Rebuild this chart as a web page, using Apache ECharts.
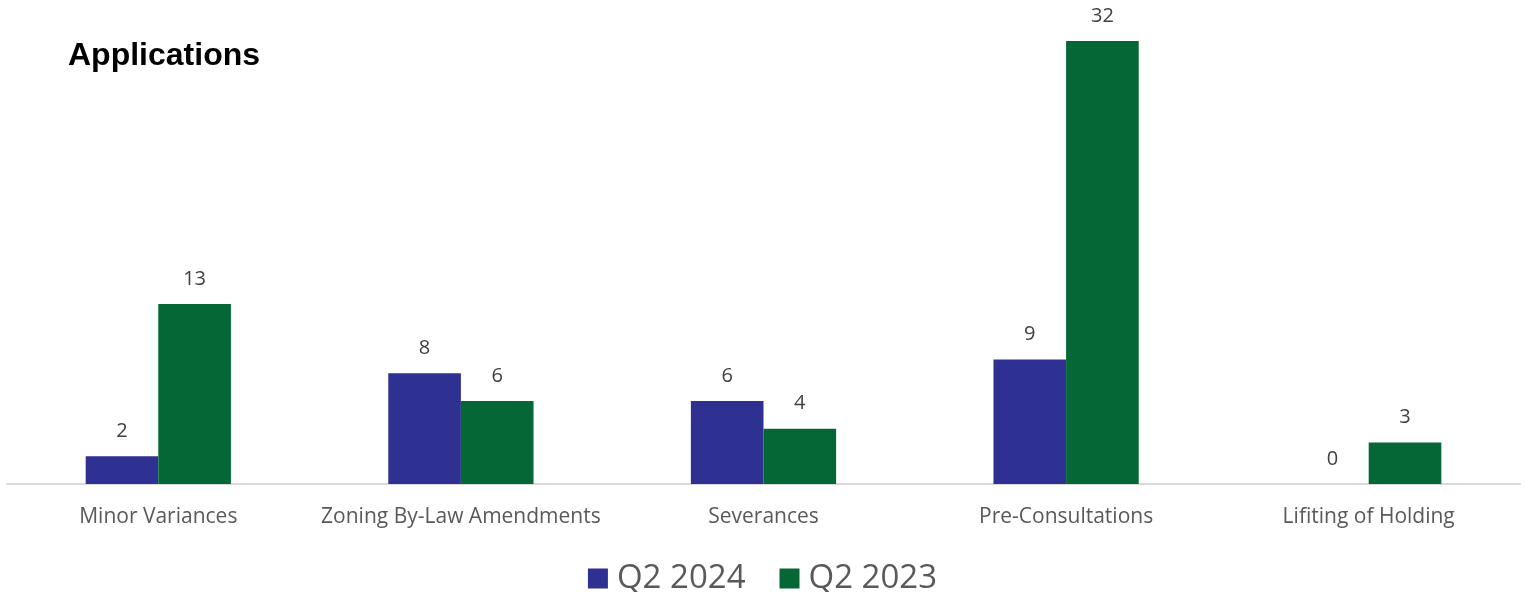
<!DOCTYPE html>
<html>
<head>
<meta charset="utf-8">
<script src="https://cdn.jsdelivr.net/npm/echarts@6/dist/echarts.min.js"></script>
<style>html,body{margin:0;padding:0;background:#fff;}#c{width:1525px;height:592px;}</style>
</head>
<body>
<div id="c"></div>
<script>
const categories = ["Minor Variances", "Zoning By-Law Amendments", "Severances", "Pre-Consultations", "Lifiting of Holding"];
const seriesNames = ["Q2 2024", "Q2 2023"];
const q2_2024 = [2, 8, 6, 9, 0];
const q2_2023 = [13, 6, 4, 32, 3];
const colors = ["#2E3192", "#046735"];

const chart = echarts.init(document.getElementById('c'));
const labelStyle = { show: true, position: 'top', distance: 15, color: '#404040', fontSize: 20, fontFamily: 'Open Sans' };
chart.setOption({
  animation: false,
  title: {
    text: 'Applications', left: 68, top: 40, padding: 0,
    textStyle: { fontFamily: 'Liberation Sans', fontWeight: 'bold', fontSize: 32, color: '#000' }
  },
  legend: {
    data: seriesNames, left: 'center', top: 557, itemWidth: 20, itemHeight: 20, itemGap: 34,
    icon: 'rect',
    textStyle: { fontSize: 33, color: '#595959', fontFamily: 'Open Sans', padding: [0, 0, 0, 4] }
  },
  grid: { left: 7, right: 5, top: 41, bottom: 108 },
  xAxis: {
    type: 'category', data: categories,
    axisLine: { lineStyle: { color: '#d9d9d9', width: 2 } },
    axisTick: { show: false },
    axisLabel: { color: '#595959', fontSize: 21, fontFamily: 'Open Sans', margin: 23, interval: 0 }
  },
  yAxis: { type: 'value', min: 0, max: 32, show: false, splitLine: { show: false } },
  series: [
    { name: seriesNames[0], type: 'bar', data: q2_2024, itemStyle: { color: colors[0] }, barGap: '0%', barCategoryGap: '52%', label: labelStyle },
    { name: seriesNames[1], type: 'bar', data: q2_2023, itemStyle: { color: colors[1] }, barGap: '0%', barCategoryGap: '52%', label: labelStyle }
  ]
});
</script>
</body>
</html>
